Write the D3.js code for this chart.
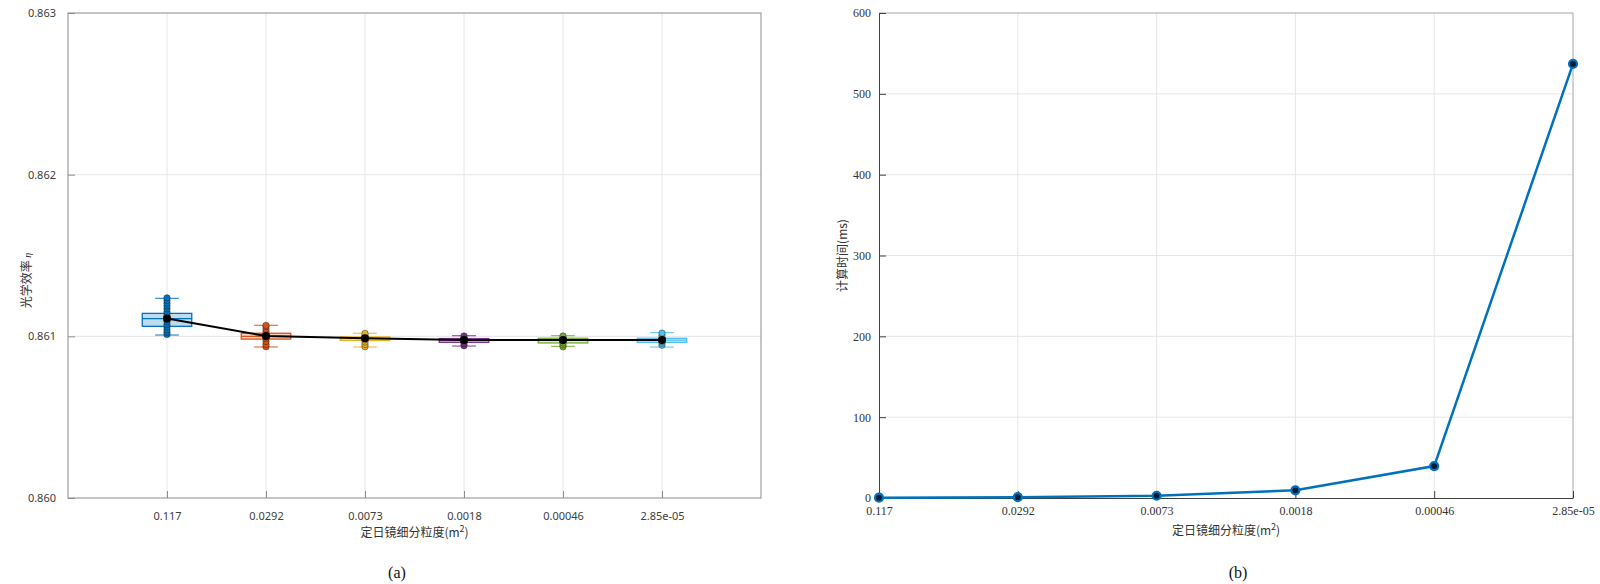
<!DOCTYPE html>
<html lang="zh">
<head>
  <meta charset="UTF-8">
  <title>光学效率与计算时间</title>
  <script src="https://d3js.org/d3.v7.min.js"></script>
  <style>
    body {
      margin: 0;
      background: #ffffff;
    }
    svg {
      display: block;
    }
    .tick-sans {
      font-family: 'Noto Sans', 'Noto Sans CJK SC', sans-serif;
      font-size: 11px;
      fill: #404040;
    }
    .tick-serif {
      font-family: 'Liberation Serif', 'DejaVu Serif', serif;
      font-size: 12px;
      fill: #333;
    }
    .lbl {
      font-family: 'Noto Sans CJK SC', 'Noto Sans', sans-serif;
      font-size: 12px;
      fill: #333;
    }
    .panel {
      font-family: 'Liberation Serif', serif;
      font-size: 16px;
      fill: #111;
    }
    .grid {
      stroke: #e6e6e6;
      stroke-width: 1;
    }
  </style>
</head>
<body>
  <svg width="1600" height="584"></svg>
  <script>
    // granularity categories (m^2)
    const categories = ["0.117", "0.0292", "0.0073", "0.0018", "0.00046", "2.85e-05"];
    const colors = ["#0072BD", "#D95319", "#EDB120", "#7E2F8E", "#77AC30", "#4DBEEE"];

    // (a) optical efficiency box statistics
    const q1 = [0.861062, 0.860983, 0.860975, 0.860963, 0.860959, 0.860963];
    const medians = [0.861109, 0.861000, 0.860986, 0.860976, 0.860976, 0.860976];
    const q3 = [0.861142, 0.861019, 0.860996, 0.860986, 0.860988, 0.860988];
    const whiskLow = [0.861008, 0.860934, 0.860934, 0.860940, 0.860938, 0.860934];
    const whiskHigh = [0.861235, 0.861068, 0.861019, 0.861004, 0.861004, 0.861023];
    const means = [0.861110, 0.861002, 0.860988, 0.860977, 0.860978, 0.860977];
    const samples = [
      [0.861012, 0.861025, 0.861040, 0.861058, 0.861072, 0.861090, 0.861105, 0.861118, 0.861130, 0.861150, 0.861170, 0.861188, 0.861205, 0.861222, 0.861238],
      [0.860936, 0.860950, 0.860968, 0.860985, 0.860995, 0.861005, 0.861015, 0.861030, 0.861045, 0.861060, 0.861068],
      [0.860936, 0.860950, 0.860965, 0.860978, 0.860988, 0.860996, 0.861006, 0.861018],
      [0.860942, 0.860955, 0.860966, 0.860975, 0.860983, 0.860992, 0.861002],
      [0.860935, 0.860948, 0.860960, 0.860972, 0.860982, 0.860992, 0.861002],
      [0.860945, 0.860958, 0.860968, 0.860978, 0.860990, 0.861005, 0.861020]
    ];
    const effTicks = [0.860, 0.861, 0.862, 0.863];

    // (b) computation time (ms)
    const times = [0.4, 1.0, 2.8, 9.5, 39.5, 537];
    const timeTicks = [0, 100, 200, 300, 400, 500, 600];

    const svg = d3.select("svg");

    // ---------- panel (a) ----------
    const xa = d3.scaleLinear().domain([0, 7]).range([68, 761]);
    const ya = d3.scaleLinear().domain([0.860, 0.863]).range([498, 13]);
    const ga = svg.append("g");

    ga.selectAll(".gx").data(categories).enter().append("line")
      .attr("class", "grid")
      .attr("x1", (d, i) => xa(i + 1)).attr("x2", (d, i) => xa(i + 1))
      .attr("y1", ya.range()[0]).attr("y2", ya.range()[1]);
    ga.selectAll(".gy").data(effTicks.slice(1, -1)).enter().append("line")
      .attr("class", "grid")
      .attr("x1", xa.range()[0]).attr("x2", xa.range()[1])
      .attr("y1", d => ya(d)).attr("y2", d => ya(d));

    // axes box
    ga.append("rect")
      .attr("x", xa.range()[0]).attr("y", ya.range()[1])
      .attr("width", xa.range()[1] - xa.range()[0])
      .attr("height", ya.range()[0] - ya.range()[1])
      .attr("fill", "none").attr("stroke", "#8c8c8c").attr("stroke-width", 1);

    const axA = d3.axisLeft(ya).tickValues(effTicks).tickFormat(d3.format(".3f")).tickSizeInner(-7).tickSizeOuter(0).tickPadding(12);
    const gAy = ga.append("g").attr("transform", `translate(${xa.range()[0]},0)`).call(axA);
    gAy.select(".domain").remove();
    gAy.selectAll("line").attr("stroke", "#8c8c8c");
    gAy.selectAll("text").attr("class", "tick-sans").attr("fill", null);

    const axAx = d3.axisBottom(xa).tickValues(d3.range(1, 7)).tickFormat(d => categories[d - 1]).tickSizeInner(-7).tickSizeOuter(0).tickPadding(14);
    const gAx = ga.append("g").attr("transform", `translate(0,${ya.range()[0]})`).call(axAx);
    gAx.select(".domain").remove();
    gAx.selectAll("line").attr("stroke", "#8c8c8c");
    gAx.selectAll("text").attr("class", "tick-sans").attr("fill", null);

    // boxes
    const bw = 0.25, cw = 0.12;
    categories.forEach((c, i) => {
      const cx = i + 1;
      const col = colors[i];
      const b = ga.append("g");
      b.append("line")
        .attr("x1", xa(cx)).attr("x2", xa(cx))
        .attr("y1", ya(whiskLow[i])).attr("y2", ya(whiskHigh[i]))
        .attr("stroke", col).attr("stroke-width", 1.2);
      [whiskLow[i], whiskHigh[i]].forEach(v => {
        b.append("line")
          .attr("x1", xa(cx - cw)).attr("x2", xa(cx + cw))
          .attr("y1", ya(v)).attr("y2", ya(v))
          .attr("stroke", col).attr("stroke-width", 1.2).attr("opacity", 0.8);
      });
      b.append("rect")
        .attr("x", xa(cx - bw)).attr("width", xa(cx + bw) - xa(cx - bw))
        .attr("y", ya(q3[i])).attr("height", Math.max(2, ya(q1[i]) - ya(q3[i])))
        .attr("fill", col).attr("fill-opacity", 0.25)
        .attr("stroke", col).attr("stroke-width", 1.3);
      b.append("line")
        .attr("x1", xa(cx - bw)).attr("x2", xa(cx + bw))
        .attr("y1", ya(medians[i])).attr("y2", ya(medians[i]))
        .attr("stroke", col).attr("stroke-width", 1.2);
      b.selectAll("circle").data(samples[i]).enter().append("circle")
        .attr("cx", xa(cx)).attr("cy", d => ya(d)).attr("r", 3.2)
        .attr("fill", col).attr("stroke", "#1a1a1a").attr("stroke-opacity", 0.55).attr("stroke-width", 0.8);
    });

    // mean line
    ga.append("path")
      .datum(means)
      .attr("fill", "none").attr("stroke", "#000").attr("stroke-width", 2)
      .attr("d", d3.line().x((d, i) => xa(i + 1)).y(d => ya(d)));
    ga.selectAll(".mean").data(means).enter().append("circle")
      .attr("cx", (d, i) => xa(i + 1)).attr("cy", d => ya(d)).attr("r", 4).attr("fill", "#000");

    // labels
    ga.append("text").attr("class", "lbl")
      .attr("x", (xa.range()[0] + xa.range()[1]) / 2).attr("y", 537)
      .attr("text-anchor", "middle")
      .html('定日镜细分粒度(m<tspan dy="-5" font-size="9">2</tspan><tspan dy="5">)</tspan>');
    ga.append("text").attr("class", "lbl")
      .attr("transform", `translate(31,${(ya.range()[0] + ya.range()[1]) / 2 + 25}) rotate(-90)`)
      .attr("text-anchor", "middle")
      .html('光学效率 <tspan font-family="Liberation Serif" font-style="italic" font-size="10">η</tspan>');
    ga.append("text").attr("class", "panel").attr("x", 397).attr("y", 578).attr("text-anchor", "middle").text("(a)");

    // ---------- panel (b) ----------
    const xb = d3.scaleLinear().domain([0, 5]).range([879, 1573]);
    const yb = d3.scaleLinear().domain([0, 600]).range([498, 13]);
    const gb = svg.append("g");

    gb.selectAll(".gx").data(d3.range(1, 5)).enter().append("line")
      .attr("class", "grid")
      .attr("x1", d => xb(d)).attr("x2", d => xb(d))
      .attr("y1", yb.range()[0]).attr("y2", yb.range()[1]);
    gb.selectAll(".gy").data(timeTicks.slice(1, -1)).enter().append("line")
      .attr("class", "grid")
      .attr("x1", xb.range()[0]).attr("x2", xb.range()[1])
      .attr("y1", d => yb(d)).attr("y2", d => yb(d));

    // top / right lighter edges
    gb.append("path")
      .attr("d", `M${xb.range()[0]},${yb.range()[1]}H${xb.range()[1]}V${yb.range()[0]}`)
      .attr("fill", "none").attr("stroke", "#a6a6a6").attr("stroke-width", 1);

    const axBy = d3.axisLeft(yb).tickValues(timeTicks).tickSizeInner(-7).tickSizeOuter(0).tickPadding(8);
    const gBy = gb.append("g").attr("transform", `translate(${xb.range()[0]},0)`).call(axBy);
    gBy.select(".domain").attr("stroke", "#404040");
    gBy.selectAll("line").attr("stroke", "#404040");
    gBy.selectAll("text").attr("class", "tick-serif").attr("fill", null);

    const axBx = d3.axisBottom(xb).tickValues(d3.range(0, 6)).tickFormat(d => categories[d]).tickSizeInner(-7).tickSizeOuter(0).tickPadding(8);
    const gBx = gb.append("g").attr("transform", `translate(0,${yb.range()[0]})`).call(axBx);
    gBx.select(".domain").attr("stroke", "#404040");
    gBx.selectAll("line").attr("stroke", "#404040");
    gBx.selectAll("text").attr("class", "tick-serif").attr("fill", null);

    gb.append("path")
      .datum(times)
      .attr("fill", "none").attr("stroke", "#0072BD").attr("stroke-width", 2.5)
      .attr("d", d3.line().x((d, i) => xb(i)).y(d => yb(d)));
    gb.selectAll(".pt").data(times).enter().append("circle")
      .attr("cx", (d, i) => xb(i)).attr("cy", d => yb(d)).attr("r", 4)
      .attr("fill", "#0b1a33").attr("stroke", "#0072BD").attr("stroke-width", 2.2);

    gb.append("text").attr("class", "lbl")
      .attr("x", 1226).attr("y", 535)
      .attr("text-anchor", "middle")
      .html('定日镜细分粒度(m<tspan dy="-5" font-size="9">2</tspan><tspan dy="5">)</tspan>');
    gb.append("text").attr("class", "lbl")
      .attr("transform", `translate(847,${(yb.range()[0] + yb.range()[1]) / 2}) rotate(-90)`)
      .attr("text-anchor", "middle")
      .text("计算时间(ms)");
    gb.append("text").attr("class", "panel").attr("x", 1238).attr("y", 578).attr("text-anchor", "middle").text("(b)");
  </script>
</body>
</html>
